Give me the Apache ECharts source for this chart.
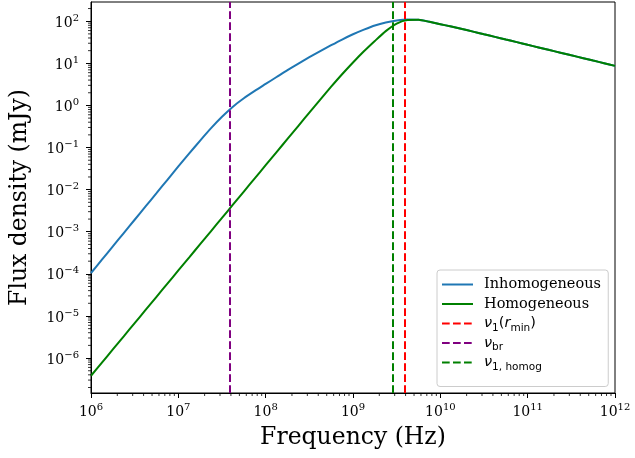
<!DOCTYPE html>
<html>
<head>
<meta charset="utf-8">
<script src="https://cdn.jsdelivr.net/npm/echarts@6/dist/echarts.min.js"></script>
<style>html,body{margin:0;padding:0;background:#fff;}#c{width:635px;height:458px;}</style>
</head>
<body>
<div id="c"></div>
<script>
// Frequencies as log10(Hz), read along the x axis
const logFreq = [6.0, 6.125, 6.25, 6.375, 6.5, 6.625, 6.75, 6.875, 7.0, 7.125, 7.25, 7.375, 7.5, 7.625, 7.75, 7.875,
  8.0, 8.125, 8.25, 8.375, 8.5, 8.625, 8.75, 8.875, 9.0, 9.125, 9.25, 9.375, 9.5, 9.625, 9.75, 9.875,
  10.0, 10.125, 10.25, 10.375, 10.5, 10.625, 10.75, 10.875, 11.0, 11.125, 11.25, 11.375, 11.5, 11.625, 11.75, 11.875, 12.0];
// Inhomogeneous flux density, log10(mJy)
const inhomogeneousLog = [-3.98, -3.664, -3.348, -3.031, -2.715, -2.399, -2.083, -1.766, -1.45, -1.14, -0.835, -0.54, -0.27, -0.03, 0.17, 0.345,
  0.51, 0.675, 0.84, 0.995, 1.145, 1.29, 1.43, 1.565, 1.69, 1.80, 1.90, 1.97, 2.015, 2.04, 2.033, 1.985,
  1.93, 1.873, 1.814, 1.753, 1.69, 1.628, 1.565, 1.503, 1.44, 1.378, 1.315, 1.253, 1.19, 1.128, 1.065, 1.003, 0.94];
// Homogeneous flux density, log10(mJy)
const homogeneousLog = [-6.42, -6.108, -5.795, -5.483, -5.17, -4.858, -4.545, -4.233, -3.92, -3.608, -3.295, -2.983, -2.67, -2.358, -2.045, -1.733,
  -1.42, -1.108, -0.795, -0.483, -0.17, 0.14, 0.445, 0.74, 1.02, 1.285, 1.53, 1.765, 1.945, 2.028, 2.033, 1.985,
  1.93, 1.873, 1.814, 1.753, 1.69, 1.628, 1.565, 1.503, 1.44, 1.378, 1.315, 1.253, 1.19, 1.128, 1.065, 1.003, 0.94];
// Characteristic frequencies (Hz)
const nu1Rmin = 3.9e9;
const nuBr = 3.88e7;
const nu1Homog = 2.85e9;
// Axis ranges
const xLim = [1e6, 1e12];
const yLim = [1.48e-7, 286];

function minorTicks(lo, hi) {
  const out = [];
  for (let e = Math.floor(Math.log10(lo)); e <= Math.ceil(Math.log10(hi)); e++) {
    for (let m = 2; m <= 9; m++) {
      const v = m * Math.pow(10, e);
      if (v > lo && v < hi) out.push(v);
    }
  }
  return out;
}
const xMinorTicks = minorTicks(xLim[0], xLim[1]);
const yMinorTicks = minorTicks(yLim[0], yLim[1]);

function pow10Label(v) {
  const e = Math.round(Math.log10(v));
  const s = e < 0 ? '\u2212' + (-e) : String(e);
  return '{b|10}{s|' + s + '}';
}
const serif = 'DejaVu Serif';
const labelRich = {
  b: { fontFamily: serif, fontSize: 14, color: '#000', verticalAlign: 'bottom', lineHeight: 18 },
  s: { fontFamily: serif, fontSize: 10, color: '#000', verticalAlign: 'bottom', lineHeight: 18, padding: [0, 0, 7, 0] }
};
const legendNames = {
  'Inhomogeneous': '{t|Inhomogeneous}{sub| }',
  'Homogeneous': '{t|Homogeneous}{sub| }',
  'nu1rmin': '{nu|\u03bd}{sub|1}{m|(}{nu|r}{sub|min}{m|)}',
  'nubr': '{nu|\u03bd}{sub|br}',
  'nu1homog': '{nu|\u03bd}{sub|1, homog}'
};
const toPts = (ys) => logFreq.map((lf, i) => [Math.pow(10, lf), Math.pow(10, ys[i])]);

const dash = [7.7, 3.3];
const chart = echarts.init(document.getElementById('c'), null, { renderer: 'canvas' });
chart.setOption({
  animation: false,
  backgroundColor: '#fff',
  grid: { left: 90, right: 20, top: 2, bottom: 65, show: true, borderColor: '#000', borderWidth: 1, backgroundColor: 'transparent' },
  xAxis: {
    type: 'log', min: xLim[0], max: xLim[1], logBase: 10, position: 'bottom',
    name: 'Frequency (Hz)', nameLocation: 'middle', nameGap: 33,
    nameTextStyle: { fontFamily: serif, fontSize: 23.5, color: '#000' },
    axisLine: { show: true, onZero: false, lineStyle: { color: '#000', width: 1 } },
    axisTick: { show: true, length: 5, lineStyle: { color: '#000', width: 1 } },
    axisLabel: { margin: 8, formatter: pow10Label, rich: labelRich },
    splitLine: { show: false }
  },
  yAxis: {
    type: 'log', min: yLim[0], max: yLim[1], logBase: 10, position: 'left',
    name: 'Flux density (mJy)', nameLocation: 'middle', nameGap: 59,
    nameTextStyle: { fontFamily: serif, fontSize: 23.5, color: '#000' },
    axisLine: { show: true, onZero: false, lineStyle: { color: '#000', width: 1 } },
    axisTick: { show: true, length: 5, lineStyle: { color: '#000', width: 1 } },
    axisLabel: { margin: 12, formatter: pow10Label, rich: labelRich, showMinLabel: false, showMaxLabel: false },
    splitLine: { show: false }
  },
  legend: {
    orient: 'vertical', left: 437, top: 270,
    backgroundColor: 'rgba(255,255,255,0.8)', borderColor: '#ccc', borderWidth: 1, borderRadius: 3,
    padding: [7, 4, 14, 4], itemGap: 2, itemWidth: 31, itemHeight: 14,
    itemStyle: { opacity: 0, color: 'transparent', borderWidth: 0 },
    data: ['Inhomogeneous', 'Homogeneous', 'nu1rmin', 'nubr', 'nu1homog'],
    formatter: function (n) { return legendNames[n]; },
    textStyle: {
      padding: [0, 0, 0, 6], lineHeight: 14,
      rich: {
        t: { fontFamily: serif, fontSize: 14.5, color: '#000', lineHeight: 14 },
        m: { fontFamily: 'DejaVu Sans', fontSize: 14.5, color: '#000', lineHeight: 14 },
        nu: { fontFamily: 'DejaVu Sans', fontStyle: 'italic', fontSize: 14.5, color: '#000', lineHeight: 14 },
        sub: { fontFamily: 'DejaVu Sans', fontSize: 10.5, color: '#000', lineHeight: 14, verticalAlign: 'top', padding: [6, 0, 0, 0] }
      }
    }
  },
  series: [{
    name: 'Inhomogeneous', type: 'line',
    data: toPts(inhomogeneousLog),
    smooth: 0.2, symbol: 'none', lineStyle: { color: '#1f77b4', width: 2 }, itemStyle: { color: '#1f77b4' }, z: 2
  }, {
    name: 'Homogeneous', type: 'line',
    data: toPts(homogeneousLog),
    smooth: 0.2, symbol: 'none', lineStyle: { color: '#008000', width: 2 }, itemStyle: { color: '#008000' }, z: 3
  }, {
    name: 'nu1rmin', type: 'line', data: [], symbol: 'none',
    lineStyle: { color: '#ff0000', width: 2, type: dash }, itemStyle: { color: '#ff0000' }, z: 4,
    markLine: { silent: true, symbol: 'none', label: { show: false }, lineStyle: { color: '#ff0000', width: 2, type: dash }, data: [{ xAxis: nu1Rmin }] }
  }, {
    name: 'nubr', type: 'line', data: [], symbol: 'none',
    lineStyle: { color: '#800080', width: 2, type: dash }, itemStyle: { color: '#800080' }, z: 4,
    markLine: { silent: true, symbol: 'none', label: { show: false }, lineStyle: { color: '#800080', width: 2, type: dash }, data: [{ xAxis: nuBr }] }
  }, {
    name: 'nu1homog', type: 'line', data: [], symbol: 'none',
    lineStyle: { color: '#008000', width: 2, type: dash }, itemStyle: { color: '#008000' }, z: 4,
    markLine: { silent: true, symbol: 'none', label: { show: false }, lineStyle: { color: '#008000', width: 2, type: dash }, data: [{ xAxis: nu1Homog }] }
  }, {
    // minor ticks along the x axis
    name: 'xMinor', type: 'scatter', silent: true, clip: false, z: 10,
    data: xMinorTicks.map(v => [v, yLim[0]]),
    symbol: 'rect', symbolSize: [1, 3], symbolOffset: [0, 1.5], itemStyle: { color: '#000' }
  }, {
    // minor ticks along the y axis
    name: 'yMinor', type: 'scatter', silent: true, clip: false, z: 10,
    data: yMinorTicks.map(v => [xLim[0], v]),
    symbol: 'rect', symbolSize: [3, 1], symbolOffset: [-1.5, 0], itemStyle: { color: '#000' }
  }]
});
</script>
</body>
</html>
